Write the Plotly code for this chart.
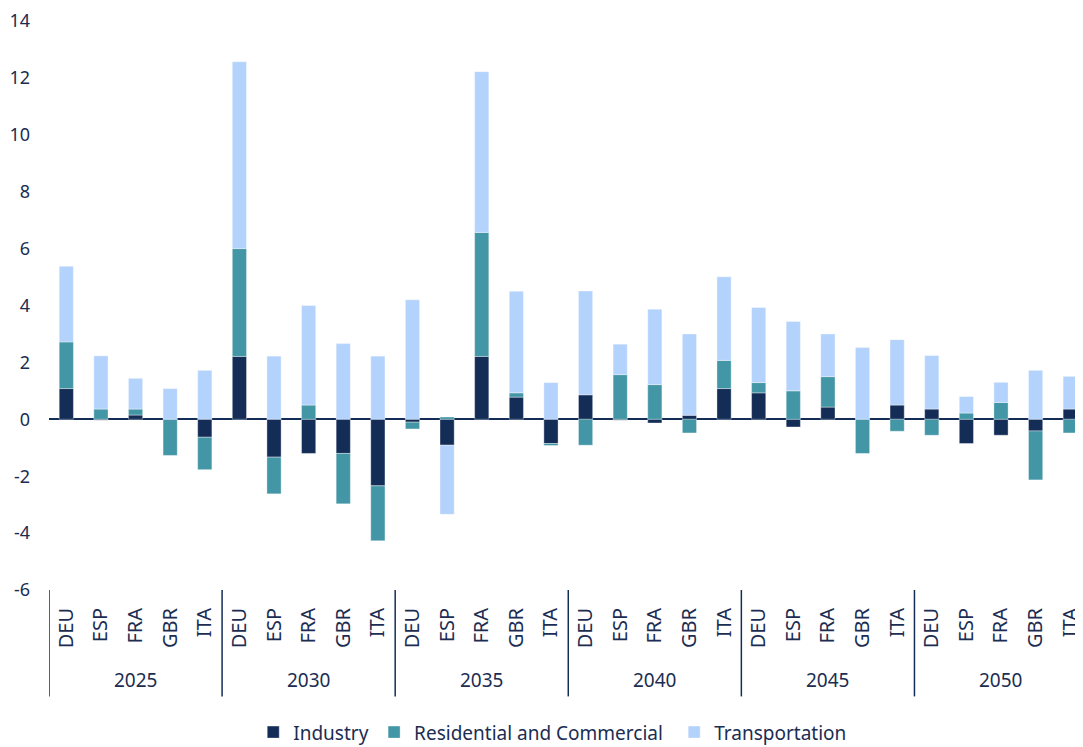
import plotly.graph_objects as go

NAVY = "#142D57"
TEAL = "#4396A6"
LIGHT = "#B4D3FC"
TEXT = "#1B2D52"
FONT = "Noto Sans, sans-serif"

YEARS = ["2025", "2030", "2035", "2040", "2045", "2050"]
COUNTRIES = ["DEU", "ESP", "FRA", "GBR", "ITA"]
SECTORS = ["Industry", "Residential and Commercial", "Transportation"]
Y_TICKS = [-6, -4, -2, 0, 2, 4, 6, 8, 10, 12, 14]

# 各年 x 各国 (DEU, ESP, FRA, GBR, ITA)
industry = [
    1.08, -0.03, 0.15, 0.00, -0.63,
    2.21, -1.33, -1.20, -1.20, -2.34,
    -0.10, -0.91, 2.21, 0.78, -0.85,
    0.86, -0.03, -0.13, 0.14, 1.08,
    0.93, -0.27, 0.43, 0.00, 0.50,
    0.36, -0.85, -0.56, -0.41, 0.36,
]
residential = [
    1.64, 0.36, 0.21, -1.27, -1.14,
    3.79, -1.29, 0.50, -1.77, -1.93,
    -0.24, 0.08, 4.36, 0.15, -0.07,
    -0.91, 1.57, 1.22, -0.48, 0.99,
    0.36, 1.00, 1.07, -1.20, -0.42,
    -0.56, 0.22, 0.59, -1.72, -0.48,
]
transportation = [
    2.66, 1.87, 1.08, 1.08, 1.72,
    6.57, 2.22, 3.50, 2.66, 2.22,
    4.20, -2.43, 5.65, 3.57, 1.29,
    3.65, 1.07, 2.65, 2.86, 2.94,
    2.64, 2.44, 1.50, 2.52, 2.30,
    1.88, 0.58, 0.71, 1.72, 1.15,
]

n_c = len(COUNTRIES)
xpos = list(range(len(YEARS) * n_c))
ticktext = COUNTRIES * len(YEARS)

fig = go.Figure()
legend_ids = ["legend", "legend2", "legend3"]
for name, vals, col, lg in zip(SECTORS, [industry, residential, transportation],
                               [NAVY, TEAL, LIGHT], legend_ids):
    fig.add_trace(go.Bar(
        x=xpos, y=vals, name=name, legend=lg, showlegend=True,
        marker=dict(color=col, line=dict(color="rgba(255,255,255,0.6)", width=0.6)),
    ))

# 年ごとの区切り線と年ラベル
shapes = []
annotations = []
for i, yr in enumerate(YEARS):
    shapes.append(dict(
        type="line", xref="x", yref="paper",
        x0=i * n_c - 0.5, x1=i * n_c - 0.5, y0=0, y1=-0.187,
        line=dict(color=NAVY, width=1.5),
    ))
    annotations.append(dict(
        text=yr, xref="x", yref="paper",
        x=i * n_c + (n_c - 1) / 2, y=-0.159,
        showarrow=False, yanchor="middle",
        font=dict(size=19, color=TEXT, family=FONT),
    ))

legend_style = dict(
    orientation="h", xanchor="left", y=-0.25, yanchor="middle",
    font=dict(size=19, color=TEXT, family=FONT),
    itemwidth=30, bgcolor="rgba(0,0,0,0)",
)

# ページ余白(8px)分を差し引いた位置で配置
fig.update_layout(
    width=1083, height=747,
    showlegend=True,
    barmode="relative",
    bargap=0.59,
    plot_bgcolor="white",
    paper_bgcolor="white",
    margin=dict(l=41, r=0, t=11, b=165),
    font=dict(family=FONT, color=TEXT, size=18),
    shapes=shapes,
    annotations=annotations,
    xaxis=dict(
        range=[-0.5, 29.6],
        tickvals=xpos, ticktext=ticktext,
        tickangle=-90,
        showgrid=False, showline=False, zeroline=False,
        ticks="", ticklabelstandoff=13, ticklabeloverflow="allow",
        tickfont=dict(size=20, color=TEXT, family=FONT),
    ),
    yaxis=dict(
        range=[-6, 14],
        tickvals=Y_TICKS, ticktext=[str(v) for v in Y_TICKS],
        showgrid=False, showline=False,
        zeroline=True, zerolinecolor=NAVY, zerolinewidth=2,
        ticks="", ticklabelstandoff=18, ticklabeloverflow="allow",
        tickfont=dict(size=18, color=TEXT, family=FONT),
    ),
    legend=dict(legend_style, x=0.196),
    legend2=dict(legend_style, x=0.312),
    legend3=dict(legend_style, x=0.600),
)

fig.write_html("out.html")
